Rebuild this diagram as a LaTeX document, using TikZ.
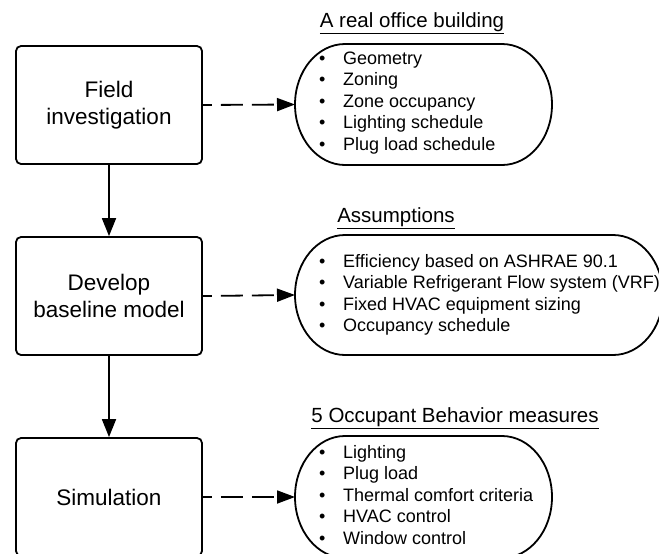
\documentclass[tikz,border=0pt]{standalone}
\usepackage{fontspec}
\setmainfont{Liberation Sans}
\usepackage{tikz}
\usetikzlibrary{arrows.meta}

\newcommand{\bul}{\makebox[24pt][l]{\textbullet}}
\newcommand{\pilloutline}[3]{%
  \draw[pillline] ([xshift=#2]#1.north west) -- ([xshift=-#2]#1.north east)
    arc[start angle=90,end angle=-90,x radius=#2,y radius=#3]
    -- ([xshift=#2]#1.south west)
    arc[start angle=270,end angle=90,x radius=#2,y radius=#3] -- cycle;}

\begin{document}
\begin{tikzpicture}[x=1pt,y=-1pt,
    stepbox/.style={draw,rectangle,rounded corners=5pt,line width=1.8pt,
      minimum width=186pt,minimum height=118pt,align=center,
      font=\fontsize{22.5}{27}\selectfont},
    pillbox/.style={rectangle,outer sep=0pt,inner sep=0pt},
    pillline/.style={line width=1.8pt},
    itemlist/.style={anchor=west,inner sep=0pt,align=left,
      font=\fontsize{18}{21.5}\selectfont},
    heading/.style={inner sep=0pt,font=\fontsize{20.5}{24}\selectfont},
    flow/.style={line width=1.8pt,-{Triangle[length=18pt,width=14pt]}},
    link/.style={line width=1.8pt,dash pattern=on 22pt off 9pt,dash phase=13pt,
      -{Triangle[length=18pt,width=13pt]}}]
    \useasboundingbox (0,0) rectangle (659,554);
    \clip (0,0) rectangle (659,554);
    % steps on the left
    \node[stepbox] (field) at (109,105) {Field\\investigation};
    \node[stepbox] (develop) at (109,296) {Develop\\baseline model};
    \node[stepbox] (sim) at (109,497) {Simulation};
    % pills on the right
    \node[pillbox,minimum width=257pt,minimum height=121pt] (office) at (423.5,104.5) {};
    \node[pillbox,minimum width=368pt,minimum height=120pt] (assume) at (479,295) {};
    \node[pillbox,minimum width=257pt,minimum height=122pt] (measures) at (423.5,497) {};
    \pilloutline{office}{50pt}{60.5pt}
    \pilloutline{assume}{50pt}{60pt}
    \pilloutline{measures}{50pt}{61pt}
    \node[heading] (officetitle) at (412,23) {\underline{A real office building}};
    \node[heading] (assumetitle) at (396,218) {\underline{Assumptions}};
    \node[heading] (measurestitle) at (455,418) {\underline{5 Occupant Behavior measures}};
    \node[itemlist] (officelist) at ([xshift=24pt,yshift=1.5pt]office.west)
      {\bul Geometry\\ \bul Zoning\\ \bul Zone occupancy\\ \bul Lighting schedule\\ \bul Plug load schedule};
    \node[itemlist] (assumelist) at ([xshift=24pt]assume.west)
      {\bul Efficiency based on ASHRAE 90.1\\ \bul Variable Refrigerant Flow system (VRF)\\
       \bul Fixed HVAC equipment sizing\\ \bul Occupancy schedule};
    \node[itemlist] (measureslist) at ([xshift=24pt,yshift=2pt]measures.west)
      {\bul Lighting\\ \bul Plug load\\ \bul Thermal comfort criteria\\ \bul HVAC control\\ \bul Window control};
    % connectors
    \draw[flow] (field) -- (develop);
    \draw[flow] (develop) -- (sim);
    \draw[link] (field.east) -- (office.west);
    \draw[link] (develop.east) -- (assume.west);
    \draw[link] (sim.east) -- (measures.west);
\end{tikzpicture}
\end{document}
